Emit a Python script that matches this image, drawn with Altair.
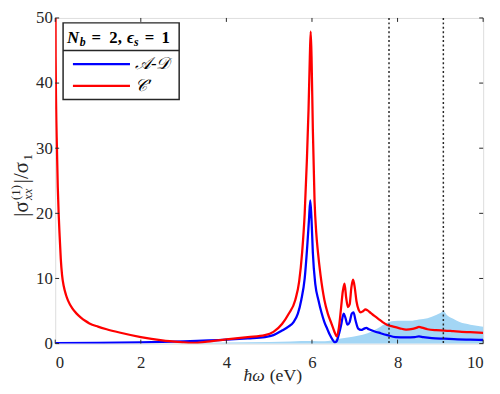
import altair as alt
import pandas as pd

# ---- data ----
x_blue = [0.0, 1.0, 2.0, 3.0, 4.0, 4.5, 4.9, 5.1, 5.3, 5.45, 5.57, 5.67, 5.75, 5.83, 5.89, 5.93, 5.96,
          5.99, 6.02, 6.08, 6.15, 6.22, 6.29, 6.36, 6.42, 6.48, 6.53, 6.57, 6.62, 6.68, 6.74, 6.78,
          6.83, 6.88, 6.93, 6.97, 7.02, 7.08, 7.15, 7.22, 7.27, 7.33, 7.45, 7.6, 7.76, 7.95, 8.2,
          8.4, 8.5, 8.6, 8.8, 9.1, 9.4, 9.7, 10.0]
y_blue = [0.05, 0.1, 0.2, 0.35, 0.6, 0.8, 1.0, 1.3, 2.0, 2.6, 3.3, 4.6, 6.7, 10.0, 15.0, 19.0, 22.0,
          19.0, 14.0, 9.0, 6.7, 4.8, 3.3, 2.2, 1.3, 0.6, 0.2, 0.3, 1.2, 2.8, 4.6, 4.0,
          2.9, 3.3, 4.6, 4.8, 3.5, 2.3, 2.1, 2.3, 2.4, 2.2, 1.9, 1.6, 1.3, 1.0, 0.95,
          1.0, 1.1, 1.0, 0.85, 0.75, 0.65, 0.6, 0.55]

x_red = [0.003, 0.01, 0.02, 0.04, 0.06, 0.08, 0.1, 0.13, 0.16, 0.2, 0.25, 0.3, 0.4, 0.5, 0.6, 0.7,
         0.8, 1.0, 1.2, 1.5, 2.0, 2.5, 3.0, 3.2, 3.5, 4.0, 4.5, 4.9, 5.1, 5.3, 5.45, 5.61, 5.7,
         5.77, 5.83, 5.88, 5.92, 5.95, 5.97, 5.99, 6.02, 6.06, 6.1, 6.14, 6.2, 6.29, 6.37, 6.46,
         6.52, 6.58, 6.63, 6.68, 6.72, 6.76, 6.8, 6.84, 6.88, 6.92, 6.96, 7.0, 7.04, 7.09, 7.14,
         7.2, 7.25, 7.3, 7.37, 7.45, 7.55, 7.65, 7.75, 7.9, 8.05, 8.2, 8.35, 8.45, 8.5, 8.57,
         8.7, 8.9, 9.1, 9.3, 9.5, 9.7, 10.0]
y_red = [62.0, 44.0, 37.0, 30.0, 24.0, 20.0, 17.0, 13.0, 10.5, 8.8, 7.5, 6.6, 5.4, 4.6, 4.0, 3.5,
         3.1, 2.6, 2.2, 1.7, 1.0, 0.5, 0.2, 0.1, 0.25, 0.65, 1.0, 1.3, 1.8, 3.0, 4.5, 6.7, 9.5,
         14.0, 20.0, 28.0, 36.0, 44.0, 47.9, 44.0, 33.0, 22.0, 17.0, 14.0, 10.5, 6.7, 4.6, 3.0,
         1.9, 1.1, 2.5, 5.5, 8.0, 9.2, 7.0, 5.6, 6.0, 8.6, 9.8, 8.6, 6.5, 5.2, 4.8,
         5.0, 5.25, 5.1, 4.7, 4.3, 3.8, 3.3, 2.9, 2.6, 2.35, 2.15, 2.25, 2.45, 2.55, 2.45,
         2.2, 2.05, 2.0, 1.9, 1.8, 1.75, 1.65]

x_fill = [0.0, 2.0, 3.0, 4.0, 5.0, 6.0, 6.3, 6.6, 7.07, 7.3, 7.46, 7.6, 7.7, 7.8, 7.92, 8.1, 8.3,
          8.5, 8.7, 8.9, 9.0, 9.07, 9.15, 9.3, 9.45, 9.7, 10.0]
y_fill = [0.0, 0.0, 0.05, 0.15, 0.25, 0.4, 0.35, 0.7, 1.2, 1.6, 2.1, 2.6, 3.0, 3.3, 3.45, 3.5, 3.5,
          3.7, 3.9, 4.4, 4.7, 5.0, 4.4, 3.8, 3.3, 2.9, 2.6]

v_lines = [7.8, 9.07]
x_ticks = [0, 2, 4, 6, 8, 10]
y_ticks = [0, 10, 20, 30, 40, 50]

series_names = ["𝒜-𝒟", "𝒞′"]
series_colors = ["#0000ff", "#ff0000"]

W, H = 435, 331
PAD_TOP = 7
FONT = "Liberation Serif"
AX = "#262626"

xs = alt.Scale(domain=[0, 10], nice=False, zero=False)
ys = alt.Scale(domain=[0, 50], nice=False, zero=False)

df_lines = pd.concat([
    pd.DataFrame({"x": x_blue, "y": y_blue, "s": series_names[0], "o": range(len(x_blue))}),
    pd.DataFrame({"x": x_red, "y": y_red, "s": series_names[1], "o": range(len(x_red))}),
])
df_fill = pd.DataFrame({"x": x_fill, "y": y_fill})
df_v = pd.DataFrame({"x": v_lines})
df_xt = pd.DataFrame({"x": x_ticks})
df_yt = pd.DataFrame({"y": y_ticks})

fill = alt.Chart(df_fill).mark_area(color="#a3d6f5", opacity=1, interpolate="monotone").encode(
    x=alt.X("x:Q", scale=xs,
            axis=alt.Axis(values=x_ticks, ticks=False, domain=False, grid=False, labelPadding=11,
                          labelFontSize=17, labelFont=FONT, labelColor=AX, title=None)),
    y=alt.Y("y:Q", scale=ys,
            axis=alt.Axis(values=y_ticks, ticks=False, domain=False, grid=False, labelPadding=3,
                          labelFontSize=17, labelFont=FONT, labelColor=AX, title=None)),
)

lines = alt.Chart(df_lines).mark_line(strokeWidth=2.3, clip=True, interpolate="monotone").encode(
    x=alt.X("x:Q", scale=xs),
    y=alt.Y("y:Q", scale=ys),
    color=alt.Color("s:N", scale=alt.Scale(domain=series_names, range=series_colors), legend=None),
    order="o:Q",
)

vrules = alt.Chart(df_v).mark_rule(color=AX, strokeWidth=1.5, strokeDash=[2, 2.5]).encode(
    x=alt.X("x:Q", scale=xs)
)

tick_len = 4
xt_bot = alt.Chart(df_xt).mark_rule(color=AX, strokeWidth=1).encode(
    x=alt.X("x:Q", scale=xs), y=alt.value(H - tick_len), y2=alt.value(H))
xt_top = alt.Chart(df_xt).mark_rule(color=AX, strokeWidth=1).encode(
    x=alt.X("x:Q", scale=xs), y=alt.value(0), y2=alt.value(tick_len))
yt_left = alt.Chart(df_yt).mark_rule(color=AX, strokeWidth=1).encode(
    y=alt.Y("y:Q", scale=ys), x=alt.value(0), x2=alt.value(tick_len))
yt_right = alt.Chart(df_yt).mark_rule(color=AX, strokeWidth=1).encode(
    y=alt.Y("y:Q", scale=ys), x=alt.value(W - tick_len), x2=alt.value(W))

# ---- legend box (decoration) ----
one = pd.DataFrame({"a": [0]})
LT = 5  # legend top offset inside plot
box = alt.Chart(one).mark_rect(fill="white", stroke=AX, strokeWidth=1.5).encode(
    x=alt.value(8), x2=alt.value(126), y=alt.value(LT), y2=alt.value(LT + 78))
divider = alt.Chart(one).mark_rule(color=AX, strokeWidth=1.5).encode(
    x=alt.value(8), x2=alt.value(126), y=alt.value(LT + 28))
leg_blue = alt.Chart(one).mark_rule(color=series_colors[0], strokeWidth=2.3).encode(
    x=alt.value(18), x2=alt.value(76), y=alt.value(LT + 42))
leg_red = alt.Chart(one).mark_rule(color=series_colors[1], strokeWidth=2.3).encode(
    x=alt.value(18), x2=alt.value(76), y=alt.value(LT + 64))


def txt(s, x, y, size=16, style="normal", weight="normal", angle=0, align="left",
        baseline="alphabetic", color="black"):
    kw = dict(text=s, font=FONT, fontSize=size, fontStyle=style, fontWeight=weight,
              align=align, baseline=baseline, color=color)
    if angle:
        kw["angle"] = angle
    return alt.Chart(one).mark_text(**kw).encode(x=alt.value(x), y=alt.value(y))


TB = LT + 20
leg_texts = [
    txt("N", 12, TB, 17, "italic", "bold"),
    txt("b", 25, TB + 3, 12, "italic", "bold"),
    txt("=", 37, TB, 17, "normal", "bold"),
    txt("2,", 55, TB, 17, "normal", "bold"),
    txt("ϵ", 73, TB, 17, "italic", "bold"),
    txt("s", 80, TB + 3, 12, "italic", "bold"),
    txt("=", 91, TB, 17, "normal", "bold"),
    txt("1", 108, TB, 17, "normal", "bold"),
    txt(series_names[0], 81, LT + 42, 17, "italic", baseline="middle"),
    txt(series_names[1], 81, LT + 64, 17, "italic", baseline="middle"),
]

# x title (page baseline ~384)
XB = 384 - 8 - PAD_TOP
xtitle = [
    txt("ħω", 213, XB, 18, "italic", align="right", color=AX),
    txt("(eV)", 218, XB, 18, align="left", color=AX),
]

# y title built from pieces, rotated (reads bottom to top)
BX = 28 - 56          # baseline x (page 28)
Y0 = 217 - 8 - PAD_TOP  # start (page 217)
ytitle = [
    txt("|σ", BX, Y0, 21, angle=270, color=AX),
    txt("(1)", BX - 8, Y0 - 17, 13, angle=270, color=AX),
    txt("xx", BX + 4, Y0 - 17, 13, "italic", angle=270, color=AX),
    txt("|/σ", BX, Y0 - 34, 21, angle=270, color=AX),
    txt("1", BX + 4, Y0 - 57, 13, angle=270, color=AX),
]

chart = alt.layer(
    fill, lines, vrules, xt_bot, xt_top, yt_left, yt_right,
    box, divider, leg_blue, leg_red, *leg_texts, *xtitle, *ytitle,
).properties(
    width=W, height=H,
    autosize=alt.AutoSizeParams(type="none"),
    padding={"left": 48, "top": PAD_TOP, "right": 9, "bottom": 378 - PAD_TOP - H},
).configure_view(stroke=AX, strokeWidth=1.2).configure(background="white")

chart.save("out.html", embed_options={"renderer": "svg", "actions": False})
